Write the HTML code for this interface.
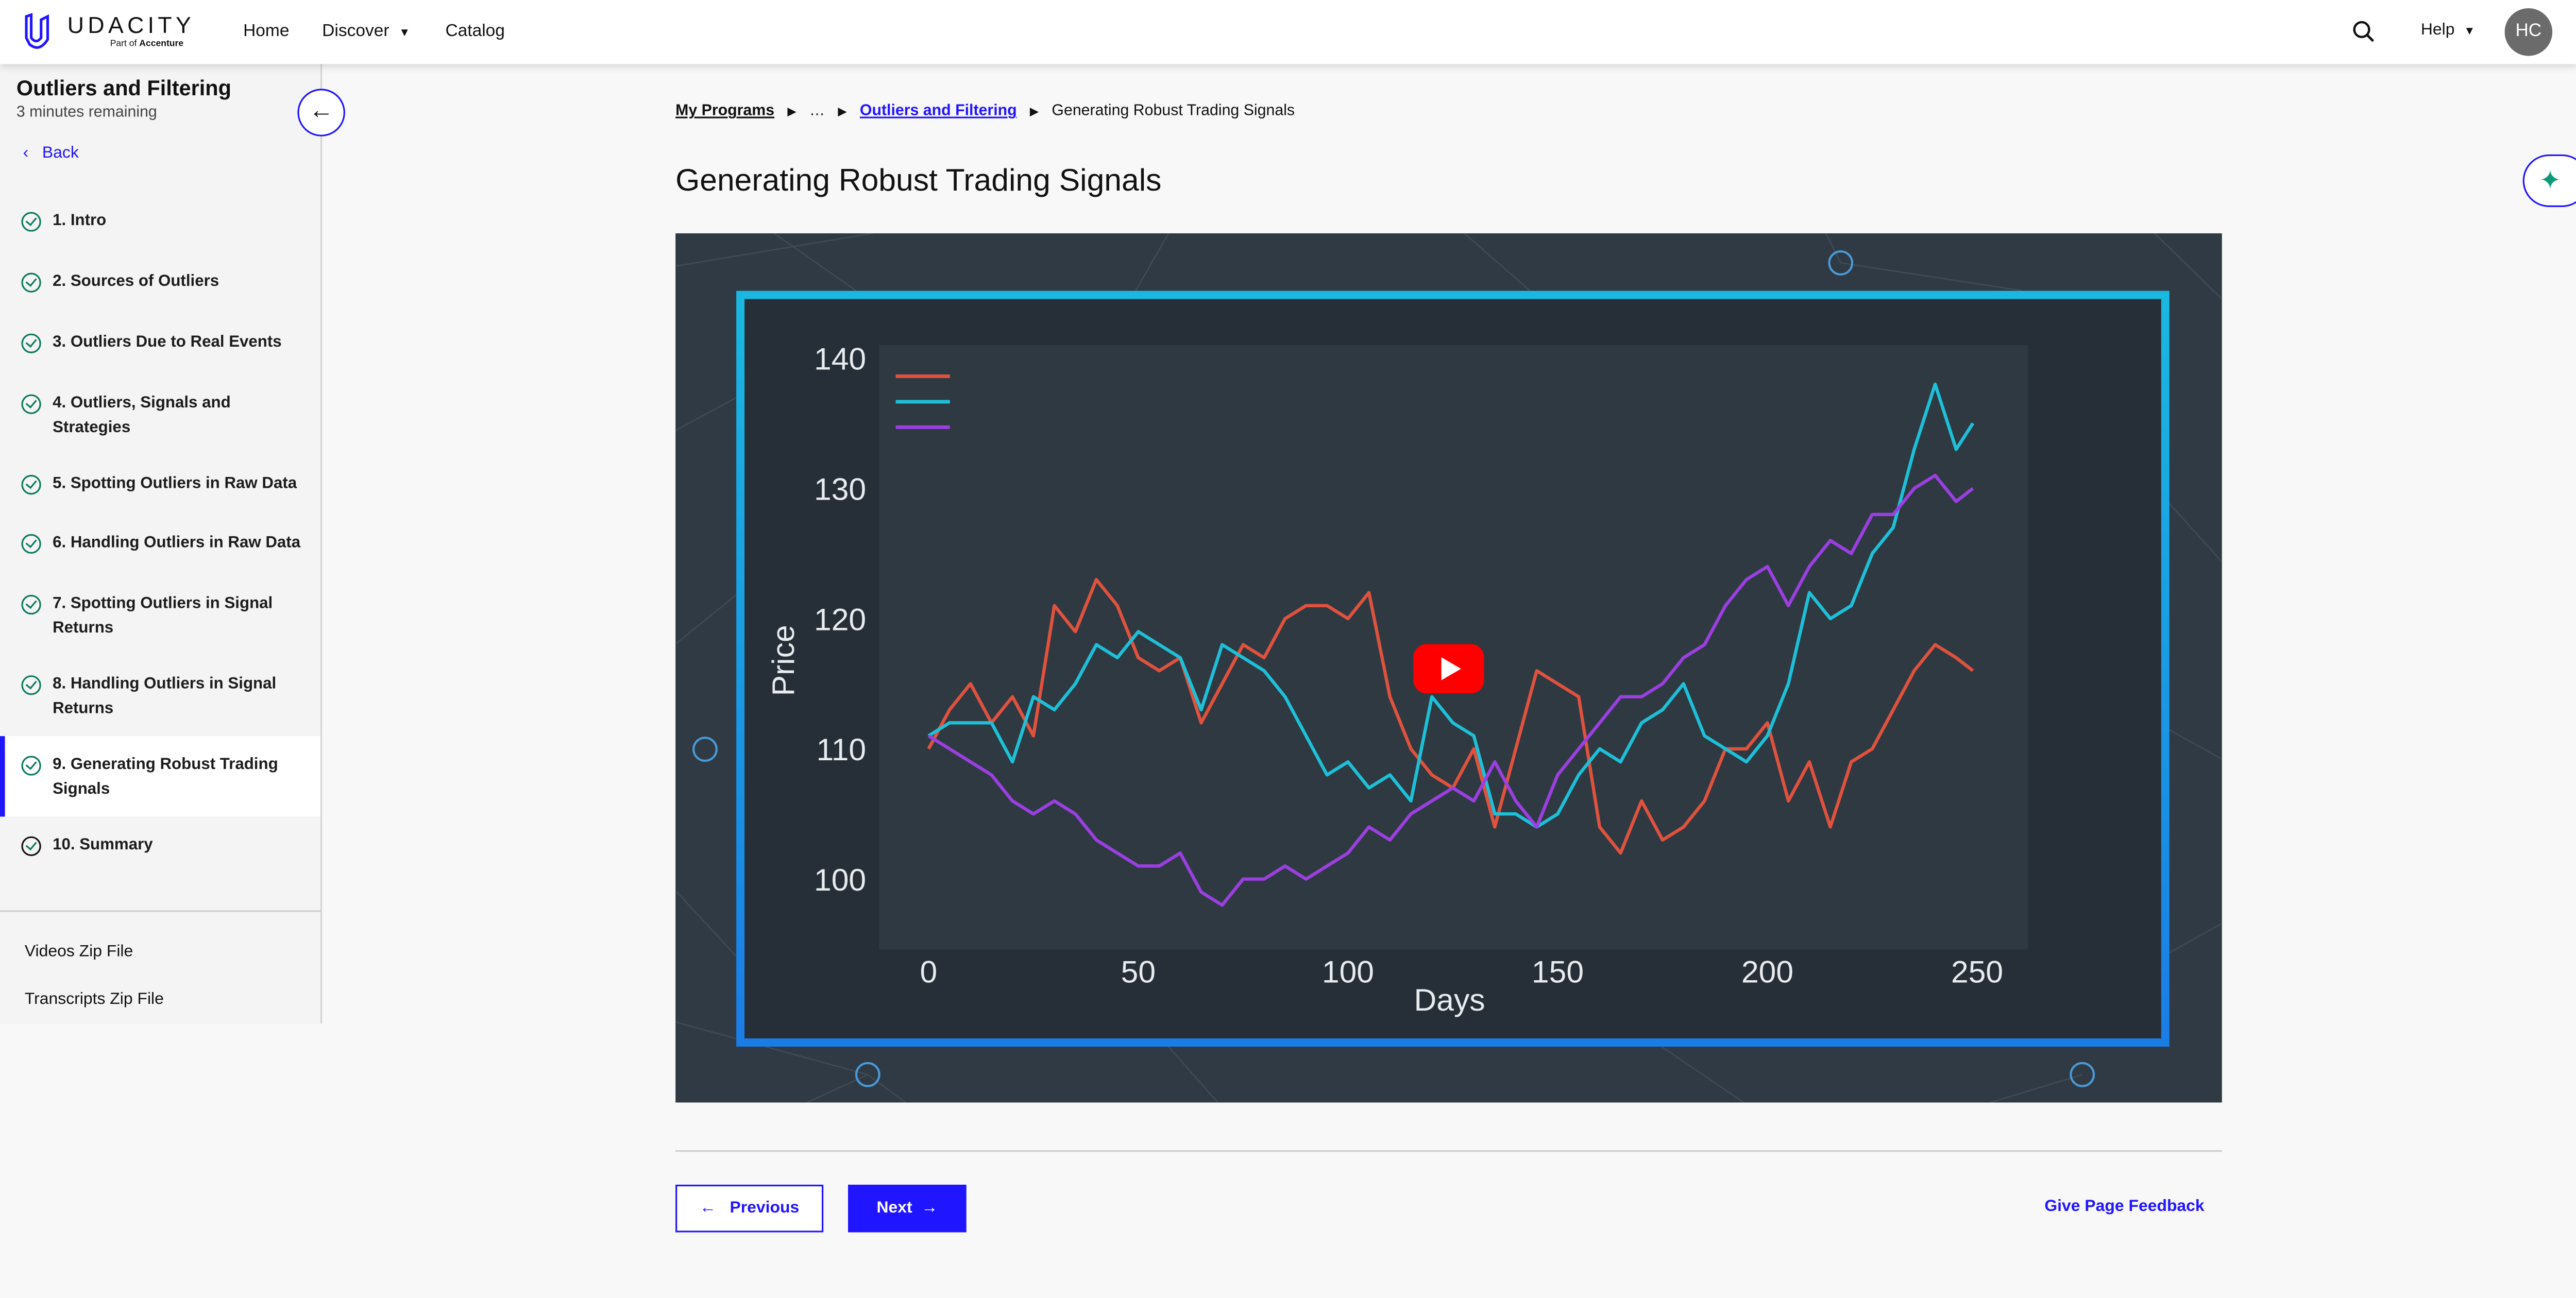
<!DOCTYPE html>
<html><head><meta charset="utf-8"><style>
html,body{margin:0;padding:0;width:5120px;height:2514px;overflow:hidden;background:#f8f8f8;font-family:"Liberation Sans",sans-serif}
#w{position:absolute;left:0;top:0;width:1568px;height:790px;transform:scale(3.19);transform-origin:0 0;background:#f8f8f8}
.a{position:absolute}
.nav{font-size:10.5px;color:#111}
.item{position:absolute;left:0;width:196px;font-size:9.8px;font-weight:bold;color:#1c1c1c;line-height:15px}
.item .t{position:absolute;left:32px;width:160px}
.ck{position:absolute;left:13px;width:10px;height:10px;border:1.3px solid #0b7a5e;border-radius:50%}
.ck:after{content:"";position:absolute;left:3px;top:1px;width:3px;height:5px;border:solid #0b7a5e;border-width:0 1.3px 1.3px 0;transform:rotate(40deg)}
</style></head><body>
<div id="w">
<div class="a" style="left:0;top:0;width:1568px;height:39px;background:#fff;box-shadow:0 2px 4px rgba(0,0,0,.12);z-index:3">
 <svg class="a" style="left:14px;top:8px" width="20" height="22"><path d="M2 2 L5 1 L5 15 Q8 19 11 15 L11 4 L15 2 L15 16 Q10 24 4 19 L2 15 Z" fill="none" stroke="#2015ff" stroke-width="1.6"/></svg>
 <div class="a" style="left:41px;top:7px;font-size:14px;letter-spacing:2.3px;color:#111">UDACITY</div>
 <div class="a" style="left:67px;top:24px;font-size:5.5px;color:#111">Part of <b>Accenture</b></div>
 <div class="a nav" style="left:148px;top:13px">Home</div>
 <div class="a nav" style="left:196px;top:13px">Discover &nbsp;<span style="font-size:7px">▼</span></div>
 <div class="a nav" style="left:271px;top:13px">Catalog</div>
 <svg class="a" style="left:1431px;top:12px" width="15" height="15"><circle cx="6" cy="6" r="4.5" fill="none" stroke="#111" stroke-width="1.4"/><line x1="9.3" y1="9.3" x2="13" y2="13" stroke="#111" stroke-width="1.5"/></svg>
 <div class="a nav" style="left:1473px;top:13px;font-size:10px">Help &nbsp;<span style="font-size:7px">▼</span></div>
 <div class="a" style="left:1524px;top:5px;width:29px;height:29px;border-radius:50%;background:#6b6b6b;color:#fff;font-size:11px;text-align:center;line-height:29px">HC</div>
</div>
<div class="a" style="left:0;top:39px;width:195px;height:584px;background:#f4f4f4;border-right:1px solid #d5d5d5">
</div>
<div class="a" style="left:10px;top:46px;font-size:13px;font-weight:bold;color:#111">Outliers and Filtering</div>
<div class="a" style="left:10px;top:63px;font-size:9.5px;color:#444">3 minutes remaining</div>
<div class="a" style="left:181px;top:54px;width:27px;height:27px;border:1.3px solid #2015ff;border-radius:50%;background:#fff;text-align:center;line-height:26px;font-size:15px;color:#111;z-index:2">←</div>
<div class="a" style="left:14px;top:88px;font-size:10px;color:#2015ff">‹ &nbsp;&nbsp;Back</div>
<div class="item" style="top:127px"><span class="ck" style="top:2px"></span><span class="t">1. Intro</span></div>
<div class="item" style="top:164px"><span class="ck" style="top:2px"></span><span class="t">2. Sources of Outliers</span></div>
<div class="item" style="top:201px"><span class="ck" style="top:2px"></span><span class="t">3. Outliers Due to Real Events</span></div>
<div class="item" style="top:238px"><span class="ck" style="top:2px"></span><span class="t">4. Outliers, Signals and<br>Strategies</span></div>
<div class="item" style="top:287px"><span class="ck" style="top:2px"></span><span class="t">5. Spotting Outliers in Raw Data</span></div>
<div class="item" style="top:323px"><span class="ck" style="top:2px"></span><span class="t">6. Handling Outliers in Raw Data</span></div>
<div class="item" style="top:360px"><span class="ck" style="top:2px"></span><span class="t">7. Spotting Outliers in Signal<br>Returns</span></div>
<div class="item" style="top:409px"><span class="ck" style="top:2px"></span><span class="t">8. Handling Outliers in Signal<br>Returns</span></div>
<div class="a" style="left:0;top:448px;width:195px;height:49px;background:#fff;border-left:3px solid #2015ff;box-sizing:border-box"></div>
<div class="item" style="top:458px"><span class="ck" style="top:2px"></span><span class="t">9. Generating Robust Trading<br>Signals</span></div>
<div class="item" style="top:507px"><span class="ck" style="top:2px;border-color:#111"></span><span class="t">10. Summary</span></div>
<div class="a" style="left:0;top:554px;width:195px;height:1px;background:#cfcfcf"></div>
<div class="a" style="left:15px;top:574px;font-size:10px;color:#111">Videos Zip File</div>
<div class="a" style="left:15px;top:603px;font-size:10px;color:#111">Transcripts Zip File</div>

<div class="a" style="left:411px;top:62px;font-size:9.5px;color:#111;white-space:nowrap">
<b style="text-decoration:underline;color:#111">My Programs</b> &nbsp; <span style="font-size:7px">▶</span> &nbsp; … &nbsp; <span style="font-size:7px">▶</span> &nbsp; <b style="text-decoration:underline;color:#2015ff">Outliers and Filtering</b> &nbsp; <span style="font-size:7px">▶</span> &nbsp; Generating Robust Trading Signals</div>
<div class="a" style="left:411px;top:100px;font-size:19px;color:#111">Generating Robust Trading Signals</div>
<div class="a" style="left:1535px;top:94px;width:40px;height:32px;border:1.3px solid #2015ff;border-radius:16px;background:#fff;color:#0b9a7a;font-size:16px;line-height:31px;padding-left:9px;box-sizing:border-box">✦</div>

<svg class="a" id="vid" style="left:411px;top:142px" width="941" height="529">
<defs><linearGradient id="fg" x1="0" y1="0" x2="0" y2="1"><stop offset="0" stop-color="#1ab8e0"/><stop offset="1" stop-color="#1a7de6"/></linearGradient></defs>
<rect width="941" height="529" fill="#2f3a44"/>
<g stroke="#3f4b56" stroke-width="0.8" fill="none">
<path d="M0 20 L120 0 M60 0 L110 35 M300 0 L280 35 M480 0 L520 35 M700 0 L709 18 L820 35 M900 0 L941 40 M0 120 L37 100 M0 250 L37 220 M0 400 L37 440 M0 480 L117 512 L140 529 M117 512 L80 529 M300 495 L330 529 M600 495 L650 529 M856 512 L800 529 M905 300 L941 320 M905 440 L941 420 M905 160 L941 200"/>
</g>
<rect x="37" y="35" width="872" height="460" fill="#262f38"/>
<rect x="124" y="68" width="699" height="368" fill="#2e3942"/>
<rect x="39.5" y="37.5" width="867" height="455" fill="none" stroke="url(#fg)" stroke-width="5"/>
<g fill="none" stroke="#4a9ad8" stroke-width="1.3"><circle cx="709" cy="18" r="7"/><circle cx="18" cy="314" r="7"/><circle cx="117" cy="512" r="7"/><circle cx="856" cy="512" r="7"/></g>
<g id="chart"></g>
<g><rect x="449" y="250" width="43" height="30" rx="8" fill="#ff0000"/><path d="M466 258 L478 265 L466 272 Z" fill="#fff"/></g>
</svg>

<div class="a" style="left:411px;top:700px;width:941px;height:1px;background:#cfcfcf"></div>
<div class="a" style="left:411px;top:721px;width:90px;height:29px;box-sizing:border-box;border:1.3px solid #2015ff;background:#fff;color:#2015ff;font-size:10px;font-weight:bold;text-align:center;line-height:27px">←&nbsp;&nbsp; Previous</div>
<div class="a" style="left:516px;top:721px;width:72px;height:29px;background:#2015ff;color:#fff;font-size:10px;font-weight:bold;text-align:center;line-height:29px">Next &nbsp;→</div>
<div class="a" style="left:1244px;top:729px;font-size:10px;font-weight:bold;color:#2015ff">Give Page Feedback</div>
</div>
<script>
const days=[0,5,10,15,20,25,30,35,40,45,50,55,60,65,70,75,80,85,90,95,100,105,110,115,120,125,130,135,140,145,150,155,160,165,170,175,180,185,190,195,200,205,210,215,220,225,230,235,240,245,249];
const redSeries=[110,113,115,112,114,111,121,119,123,121,117,116,117,112,115,118,117,120,121,121,120,122,114,110,108,107,110,104,110,116,115,114,104,102,106,103,104,106,110,110,112,106,109,104,109,110,113,116,118,117,116];
const cyanSeries=[111,112,112,112,109,114,113,115,118,117,119,118,117,113,118,117,116,114,111,108,109,107,108,106,114,112,111,105,105,104,105,108,110,109,112,113,115,111,110,109,111,115,122,120,121,125,127,133,138,133,135];
const purpleSeries=[111,110,109,108,106,105,106,105,103,102,101,101,102,99,98,100,100,101,100,101,102,104,103,105,106,107,106,109,106,104,108,110,112,114,114,115,117,118,121,123,124,121,124,126,125,128,128,130,131,129,130];
const yTicks=[100,110,120,130,140];
const xTicks=[0,50,100,150,200,250];
const ns="http://www.w3.org/2000/svg";
const X=d=>154+d*2.552, Y=v=>76+(140-v)*7.925;
const g=document.getElementById('chart');
function mk(t,a){const e=document.createElementNS(ns,t);for(const k in a)e.setAttribute(k,a[k]);g.appendChild(e);return e;}
yTicks.forEach(v=>{const t=mk('text',{x:116,y:Y(v)+7,'text-anchor':'end','font-size':19,fill:'#e8ecef','font-family':'Liberation Sans, sans-serif'});t.textContent=v;

});
xTicks.forEach(v=>{const t=mk('text',{x:X(v),y:456,'text-anchor':'middle','font-size':19,fill:'#e8ecef','font-family':'Liberation Sans, sans-serif'});t.textContent=v;

});
let t=mk('text',{x:471,y:473,'text-anchor':'middle','font-size':19,fill:'#e8ecef','font-family':'Liberation Sans, sans-serif'});t.textContent='Days';


t=mk('text',{x:72,y:260,'text-anchor':'middle','font-size':19,fill:'#e8ecef','font-family':'Liberation Sans, sans-serif',transform:'rotate(-90 72 260)'});t.textContent='Price';


[['#e0523d',redSeries,'red-series'],['#1ec0d8',cyanSeries,'cyan-series'],['#9b3fe0',purpleSeries,'purple-series']].forEach(([c,s,n],i)=>{
const p=mk('polyline',{points:s.map((v,j)=>X(days[j])+','+Y(v)).join(' '),fill:'none',stroke:c,'stroke-width':2,'stroke-linejoin':'round'});


const l=mk('line',{x1:134,x2:167,y1:87+i*15.5,y2:87+i*15.5,stroke:c,'stroke-width':2.2});


});
</script>
</body></html>
